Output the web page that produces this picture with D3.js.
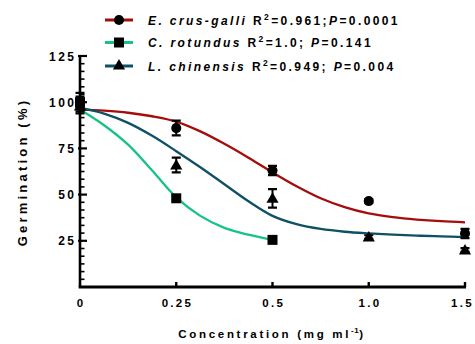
<!DOCTYPE html>
<html>
<head>
<meta charset="utf-8">
<script src="https://cdn.jsdelivr.net/npm/d3@7"></script>
<style>
  body { margin: 0; background: #fff; }
  svg { display: block; }
</style>
</head>
<body>
<div id="chart"></div>
<script>
// tick categories on the x axis (equally spaced, not to scale)
const concentrations = ["0", "0.25", "0.5", "1.0", "1.5"];
const yTicks = [25, 50, 75, 100, 125];

// observed germination (%) and error bars, one entry per concentration
const ecgMean = [100, 86, 63, 46.5, 29];
const ecgErr = [3, 4, 2.5, 1, 2.5];
const croMean = [100, 48, 25.5];
const croErr = [5, 1, 1];
const lchMean = [98, 66, 48, 27, 20];
const lchErr = [4, 4, 5, 1, 1];

// fitted curves at positions along the category axis
const fitPos = [0, 0.25, 0.5, 0.75, 1, 1.25, 1.5, 1.75, 2, 2.25, 2.5, 2.75, 3, 3.25, 3.5, 3.75, 4];
const ecgFit = [96, 95.4, 94.3, 92.4, 89.5, 84.2, 77.5, 70, 62, 54.5, 48, 43.2, 39.8, 37.8, 36.5, 35.6, 35];
const croFit = [96, 87.5, 77, 63, 48.5, 38.5, 32, 28.3, 25.5];
const lchFit = [97, 93.8, 88.8, 81.8, 73.5, 64.8, 55.6, 46.4, 38.5, 34, 31.4, 29.9, 29, 28.3, 27.8, 27.4, 27];

const species = [
  { name: "E. crus-galli", r2: "0.961", p: "0.0001", sep: ";", color: "#a50d0d", shape: "circle",
    mean: ecgMean, err: ecgErr, fit: ecgFit },
  { name: "C. rotundus", r2: "1.0", p: "0.141", sep: "; ", color: "#17c287", shape: "square",
    mean: croMean, err: croErr, fit: croFit },
  { name: "L. chinensis", r2: "0.949", p: "0.004", sep: "; ", color: "#0e5064", shape: "triangle",
    mean: lchMean, err: lchErr, fit: lchFit },
];

const width = 475, height = 344;
const font = "Arial, 'Liberation Sans', sans-serif";

const x = d3.scaleLinear().domain([0, concentrations.length - 1]).range([80, 465]);
const y = d3.scaleLinear().domain([0, 125]).range([287, 56]);

const svg = d3.select("#chart").append("svg")
  .attr("width", width)
  .attr("height", height)
  .attr("font-family", font);

const symbolFor = (shape) =>
  shape === "circle" ? d3.symbol(d3.symbolCircle, 80)
  : shape === "square" ? d3.symbol(d3.symbolSquare, 100)
  : d3.symbol(d3.symbolTriangle, 64);

// fitted curves
const line = d3.line()
  .x((d) => x(d[0]))
  .y((d) => y(d[1]))
  .curve(d3.curveCatmullRom.alpha(0.5));

svg.append("g")
  .selectAll("path")
  .data(species)
  .join("path")
  .attr("fill", "none")
  .attr("stroke", (d) => d.color)
  .attr("stroke-width", 2.3)
  .attr("d", (d) => line(d.fit.map((v, i) => [fitPos[i], v])));

// error bars + markers
species.forEach((s) => {
  const g = svg.append("g");
  const pts = s.mean.map((m, i) => ({ i, m, e: s.err[i] }));
  g.selectAll("line.bar")
    .data(pts)
    .join("line")
    .attr("x1", (d) => x(d.i)).attr("x2", (d) => x(d.i))
    .attr("y1", (d) => y(d.m - d.e)).attr("y2", (d) => y(d.m + d.e))
    .attr("stroke", "#000").attr("stroke-width", 2);
  g.selectAll("path.cap")
    .data(pts)
    .join("path")
    .attr("d", (d) => `M${x(d.i) - 4.5},${y(d.m + d.e)}h9M${x(d.i) - 4.5},${y(d.m - d.e)}h9`)
    .attr("stroke", "#000").attr("stroke-width", 2.2);
  g.selectAll("path.mark")
    .data(pts)
    .join("path")
    .attr("transform", (d) => `translate(${x(d.i)},${y(d.m) + (s.shape === "triangle" ? 1 : 0)})`)
    .attr("d", symbolFor(s.shape)())
    .attr("fill", "#000");
});

// axes
const axis = svg.append("g").attr("stroke", "#000");
axis.append("line")
  .attr("x1", x(0)).attr("x2", x(0))
  .attr("y1", y(125) - 1).attr("y2", y(0))
  .attr("stroke-width", 2.6);
axis.append("line")
  .attr("x1", x(0) - 1.3).attr("x2", x(4) + 1)
  .attr("y1", y(0)).attr("y2", y(0))
  .attr("stroke-width", 3);

// y minor ticks (six per major interval) and major ticks, pointing inward
const minor = d3.range(1, 31).map((k) => (k * 25) / 6).filter((v) => v % 25 > 0.01 && 25 - (v % 25) > 0.01);
axis.selectAll("line.minor")
  .data(minor)
  .join("line")
  .attr("x1", x(0)).attr("x2", x(0) + 4.5)
  .attr("y1", (d) => y(d)).attr("y2", (d) => y(d))
  .attr("stroke-width", 1.6);
axis.selectAll("line.major")
  .data(yTicks)
  .join("line")
  .attr("x1", x(0) - 2).attr("x2", x(0) + 7)
  .attr("y1", (d) => y(d)).attr("y2", (d) => y(d))
  .attr("stroke-width", 2.2);
axis.selectAll("line.xtick")
  .data(concentrations.slice(1))
  .join("line")
  .attr("x1", (d, i) => x(i + 1)).attr("x2", (d, i) => x(i + 1))
  .attr("y1", y(0)).attr("y2", y(0) - 5)
  .attr("stroke-width", 2.4);

svg.append("g")
  .attr("font-size", 12)
  .attr("font-weight", "bold")
  .attr("letter-spacing", 2.5)
  .attr("text-anchor", "end")
  .selectAll("text")
  .data(yTicks)
  .join("text")
  .attr("x", 76.5)
  .attr("y", (d) => y(d) + 4.5)
  .text((d) => d);

svg.append("g")
  .attr("font-size", 11.5)
  .attr("font-weight", "bold")
  .attr("letter-spacing", 2.3)
  .attr("text-anchor", "middle")
  .selectAll("text")
  .data(concentrations)
  .join("text")
  .attr("x", (d, i) => Math.min(x(i) + 1.2, 462.5))
  .attr("y", 307)
  .text((d) => d);

// axis titles
svg.append("text")
  .attr("transform", "translate(27,172) rotate(-90)")
  .attr("text-anchor", "middle")
  .attr("font-size", 13)
  .attr("font-weight", "bold")
  .attr("letter-spacing", 3.2)
  .text("Germination (%)");

const xt = svg.append("text")
  .attr("x", 272)
  .attr("y", 338)
  .attr("text-anchor", "middle")
  .attr("font-size", 11.5)
  .attr("font-weight", "bold")
  .attr("letter-spacing", 2.7);
xt.append("tspan").text("Concentration (mg ml");
xt.append("tspan").attr("dy", -5).attr("font-size", 8).attr("letter-spacing", 0.5).text("-1");
xt.append("tspan").attr("dy", 5).text(")");

// legend
const legend = svg.append("g")
  .selectAll("g")
  .data(species)
  .join("g")
  .attr("transform", (d, i) => `translate(0,${[20, 42.5, 66][i]})`);
legend.append("line")
  .attr("x1", 105).attr("x2", 133)
  .attr("stroke", (d) => d.color)
  .attr("stroke-width", 3);
legend.append("path")
  .attr("transform", "translate(119,0)")
  .attr("d", (d) => symbolFor(d.shape)())
  .attr("fill", "#000");
const lt = legend.append("text")
  .attr("x", 148)
  .attr("y", 4.5)
  .attr("font-size", 12)
  .attr("font-weight", "bold")
  .attr("letter-spacing", 2.4);
lt.append("tspan").attr("font-style", "italic").text((d) => d.name + " ");
lt.append("tspan").text("R");
lt.append("tspan").attr("dy", -5).attr("font-size", 8.5).text("2");
lt.append("tspan").attr("dy", 5).text((d) => "=" + d.r2 + d.sep);
lt.append("tspan").attr("font-style", "italic").text("P");
lt.append("tspan").text((d) => "=" + d.p);
</script>
</body>
</html>
